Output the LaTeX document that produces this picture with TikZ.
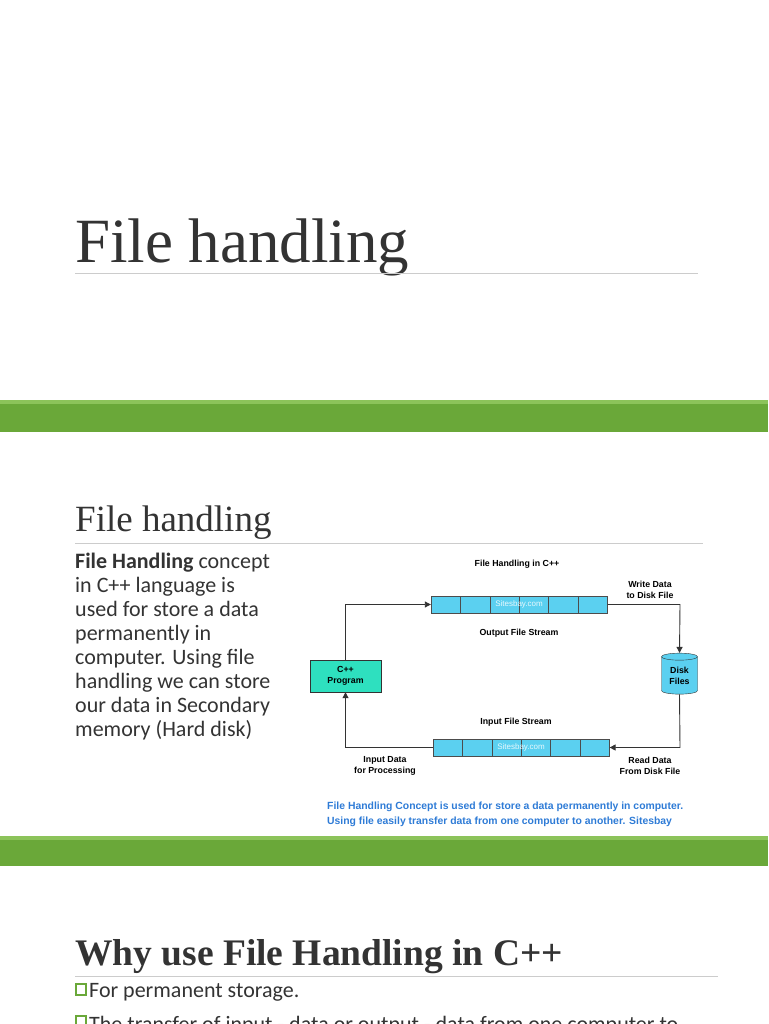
\documentclass[tikz,border=0pt]{standalone}
\usepackage{fontspec}
\setmainfont{Liberation Serif}
\newfontfamily\bodyfont{Carlito}
\newfontfamily\diagfont{Liberation Sans}
\usetikzlibrary{shapes.geometric,arrows.meta}
\definecolor{barGreen}{HTML}{6AA839}
\definecolor{barLight}{HTML}{8CC35A}
\definecolor{cellBlue}{HTML}{5BD0F0}
\definecolor{progTeal}{HTML}{2EE0BF}
\definecolor{capBlue}{HTML}{2E7BD6}
\definecolor{textGray}{HTML}{333333}
\tikzset{
  rule/.style={draw=black!20, line width=0.8pt},
  bodytext/.style={inner sep=0pt, font=\bodyfont\fontsize{22}{24}\selectfont, text=textGray, align=left},
  dlabel/.style={font=\diagfont\bfseries\fontsize{8.8}{11}\selectfont, align=center, inner sep=0pt},
  flow/.style={draw=black!80, line width=0.9pt, -{Triangle[length=6pt,width=6pt]}},
  cell/.style={draw=black!70, fill=cellBlue, minimum width=29.4pt, minimum height=17pt, inner sep=0pt},
}
\begin{document}
\begin{tikzpicture}[x=1pt,y=-1pt]
\useasboundingbox (0,0) rectangle (768,1024);
\clip (0,0) rectangle (768,1024);
% first slide
\node[anchor=base west, inner sep=0pt, font=\fontsize{63}{66}\selectfont, text=textGray] (title) at (75,262) {File handling};
\draw[rule] (75,273) -- (698,273);
\fill[barGreen] (0,400) rectangle (768,432);
\fill[barLight] (0,400) rectangle (768,404);
% second slide
\node[anchor=base west, inner sep=0pt, font=\fontsize{37}{38}\selectfont, text=textGray] (subtitle) at (75,531) {File handling};
\draw[rule] (75,543) -- (703,543);
\node[bodytext, anchor=north west] (body) at (75,553) {\textbf{File Handling} concept\\in C++ language is\\used for store a data\\permanently in\\computer. Using file\\handling we can store\\our data in Secondary\\memory (Hard disk)};
% diagram
\node[dlabel] (dtitle) at (517,564) {File Handling in C++};
\foreach \i in {0,...,5} {
  \node[cell] (o\i) at (445.7+\i*29.4,604.5) {};
  \node[cell] (n\i) at (447.7+\i*29.4,747.5) {};
}
\node[font=\diagfont\fontsize{8}{9}\selectfont, text=white!85!cellBlue] at (519,604.5) {Sitesbay.com};
\node[font=\diagfont\fontsize{8}{9}\selectfont, text=white!85!cellBlue] at (521,747.5) {Sitesbay.com};
\node[draw=black!80, fill=progTeal, minimum width=71pt, minimum height=32pt, dlabel] (prog) at (345.5,676) {C++\\Program};
\node[cylinder, shape border rotate=90, aspect=0.35, draw=black!80, fill=cellBlue, minimum width=36pt, minimum height=41pt, dlabel] (disk) at (679.5,675.5) {Disk\\Files};
\coordinate (tl) at (345.5,604.5);
\coordinate (tr) at (680,604.5);
\coordinate (br) at (680,747.5);
\coordinate (bl) at (345.5,747.5);
\draw[flow] (prog.north) -- (tl) -- (o0.west);
\draw[flow] (o5.east) -- (tr) -- (disk.north);
\draw[flow] (disk.south) -- (br) -- (n5.east);
\draw[flow] (n0.west) -- (bl) -- (prog.south);
\node[dlabel] (write) at (650,590) {Write Data\\to Disk File};
\node[dlabel] (outs) at (519,633) {Output File Stream};
\node[dlabel] (ins) at (516,722) {Input File Stream};
\node[dlabel] (read) at (650,766) {Read Data\\From Disk File};
\node[dlabel] (inp) at (385,766) {Input Data\\for Processing};
\node[dlabel, text=capBlue, align=left, anchor=west, font=\diagfont\bfseries\fontsize{10.4}{15}\selectfont] (cap) at (327,814) {File Handling Concept is used for store a data permanently in computer.\\Using file easily transfer data from one computer to another. Sitesbay};
\fill[barGreen] (0,836) rectangle (768,866);
\fill[barLight] (0,836) rectangle (768,840);
% third slide
\node[anchor=base west, inner sep=0pt, font=\bfseries\fontsize{37.5}{38}\selectfont, text=textGray] (why) at (75,965) {Why use File Handling in C++};
\draw[rule] (75,976) -- (718,976);
\draw[barGreen, line width=1.2pt] (76,984) rectangle (86,995);
\node[bodytext, anchor=base west] (b1) at (89,997) {For permanent storage.};
\draw[barGreen, line width=1.2pt] (76,1016) rectangle (86,1027);
\node[bodytext, anchor=base west] (b2) at (89,1031) {The transfer of input - data or output - data from one computer to};
\end{tikzpicture}
\end{document}
